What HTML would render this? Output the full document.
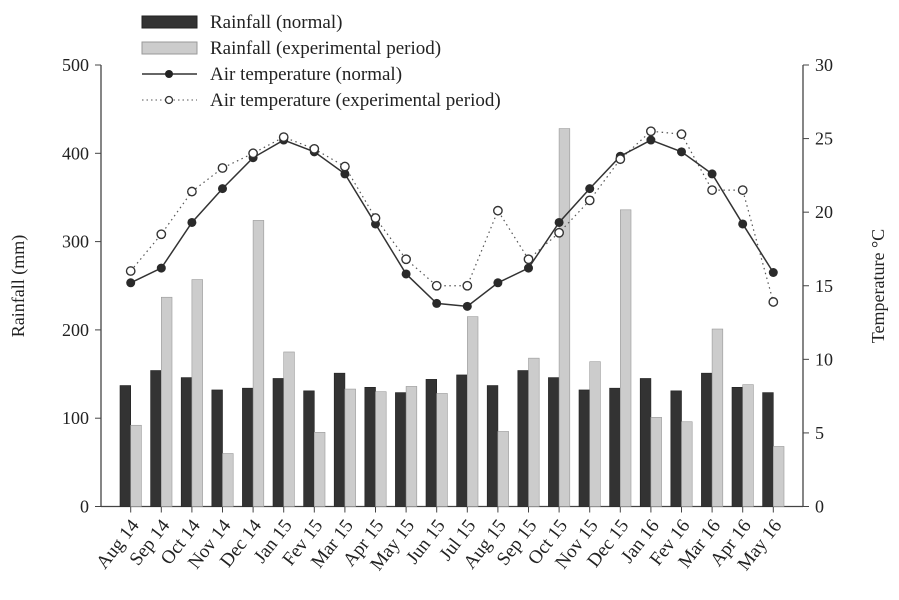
<!DOCTYPE html>
<html><head><meta charset="utf-8"><style>
body{margin:0;background:#fff;}
svg{font-family:"Liberation Serif",serif;}
</style></head><body>
<svg id="chart" width="899" height="595">
<g id="legend">
 <g><rect x="142" y="16" width="55" height="12" fill="#333" stroke="#222"/><text x="210" y="28" font-size="19" fill="#222">Rainfall (normal)</text></g>
 <g><rect x="142" y="42" width="55" height="12" fill="#ccc" stroke="#999"/><text x="210" y="54" font-size="19" fill="#222">Rainfall (experimental period)</text></g>
 <g><line x1="142" y1="74" x2="197" y2="74" stroke="#333" stroke-width="1.5"/><circle cx="169" cy="74" r="4" fill="#222"/><text x="210" y="80" font-size="19" fill="#222">Air temperature (normal)</text></g>
 <g><line x1="142" y1="100" x2="197" y2="100" stroke="#555" stroke-dasharray="1.5,3"/><circle cx="169" cy="100" r="3.5" fill="#fff" stroke="#333" stroke-width="1.3"/><text x="210" y="106" font-size="19" fill="#222">Air temperature (experimental period)</text></g>
</g>
<g id="plot"></g>
</svg>
<script>
const categories=["Aug 14","Sep 14","Oct 14","Nov 14","Dec 14","Jan 15","Fev 15","Mar 15","Apr 15","May 15","Jun 15","Jul 15","Aug 15","Sep 15","Oct 15","Nov 15","Dec 15","Jan 16","Fev 16","Mar 16","Apr 16","May 16"];
const rainNormal=[137,154,146,132,134,145,131,151,135,129,144,149,137,154,146,132,134,145,131,151,135,129];
const rainExp=[92,237,257,60,324,175,84,133,130,136,128,215,85,168,428,164,336,101,96,201,138,68];
const tempNormal=[15.2,16.2,19.3,21.6,23.7,24.9,24.1,22.6,19.2,15.8,13.8,13.6,15.2,16.2,19.3,21.6,23.8,24.9,24.1,22.6,19.2,15.9];
const tempExp=[16.0,18.5,21.4,23.0,24.0,25.1,24.3,23.1,19.6,16.8,15.0,15.0,20.1,16.8,18.6,20.8,23.6,25.5,25.3,21.5,21.5,13.9];
const leftTicks=[0,100,200,300,400,500];
const rightTicks=[0,5,10,15,20,25,30];

const NS="http://www.w3.org/2000/svg";
const g=document.getElementById('plot');
const X0=101,X1=803,Y0=506.5,Y1=65;
const xC=i=>130.7+i*30.6;
const yL=v=>Y0-(v/500)*(Y0-Y1);
const yR=v=>Y0-(v/30)*(Y0-Y1);
function mk(t,a){const e=document.createElementNS(NS,t);for(const k in a)e.setAttribute(k,a[k]);g.appendChild(e);return e;}
let e;
e=mk('line',{x1:X0,y1:Y1,x2:X0,y2:Y0,stroke:'#444','stroke-width':1.3});


e=mk('line',{x1:X1,y1:Y1,x2:X1,y2:Y0,stroke:'#444','stroke-width':1.3});


e=mk('line',{x1:X0,y1:Y0,x2:X1,y2:Y0,stroke:'#444','stroke-width':1.3});


leftTicks.forEach(v=>{
 mk('line',{x1:X0-6,y1:yL(v),x2:X0,y2:yL(v),stroke:'#444'});
 e=mk('text',{x:X0-12,y:yL(v)+6,'font-size':18,'text-anchor':'end',fill:'#222'});e.textContent=v;
 
 
});
rightTicks.forEach(v=>{
 mk('line',{x1:X1,y1:yR(v),x2:X1+6,y2:yR(v),stroke:'#444'});
 e=mk('text',{x:X1+12,y:yR(v)+6,'font-size':18,fill:'#222'});e.textContent=v;
 
 
});
categories.forEach((c,i)=>{
 const x=xC(i);
 mk('line',{x1:x,y1:Y0,x2:x,y2:Y0+6,stroke:'#444'});
 e=mk('text',{x:x+9,y:Y0+19,'font-size':19,'text-anchor':'end',fill:'#222',transform:`rotate(-52 ${x+9} ${Y0+19})`});e.textContent=c;
 
 
 e=mk('rect',{x:x-10.7,y:yL(rainNormal[i]),width:10.7,height:Y0-yL(rainNormal[i]),fill:'#333',stroke:'#222','stroke-width':0.6});
 
 
 e=mk('rect',{x:x,y:yL(rainExp[i]),width:10.7,height:Y0-yL(rainExp[i]),fill:'#ccc',stroke:'#999','stroke-width':0.6});
 
 
});
e=mk('polyline',{points:tempExp.map((v,i)=>xC(i)+','+yR(v)).join(' '),fill:'none',stroke:'#555','stroke-dasharray':'1.5,3.5','stroke-width':1.2});


e=mk('polyline',{points:tempNormal.map((v,i)=>xC(i)+','+yR(v)).join(' '),fill:'none',stroke:'#333','stroke-width':1.5});


tempNormal.forEach((v,i)=>{
 e=mk('circle',{cx:xC(i),cy:yR(v),r:4.5,fill:'#2a2a2a'});
 
 
});
tempExp.forEach((v,i)=>{
 e=mk('circle',{cx:xC(i),cy:yR(v),r:4.2,fill:'#fff',stroke:'#333','stroke-width':1.4});
 
 
});
e=mk('text',{x:24,y:286,'font-size':18,'text-anchor':'middle',fill:'#222',transform:'rotate(-90 24 286)'});e.textContent='Rainfall (mm)';


e=mk('text',{x:884,y:286,'font-size':18,'text-anchor':'middle',fill:'#222',transform:'rotate(-90 884 286)'});e.textContent='Temperature °C';


</script>
</body></html>
